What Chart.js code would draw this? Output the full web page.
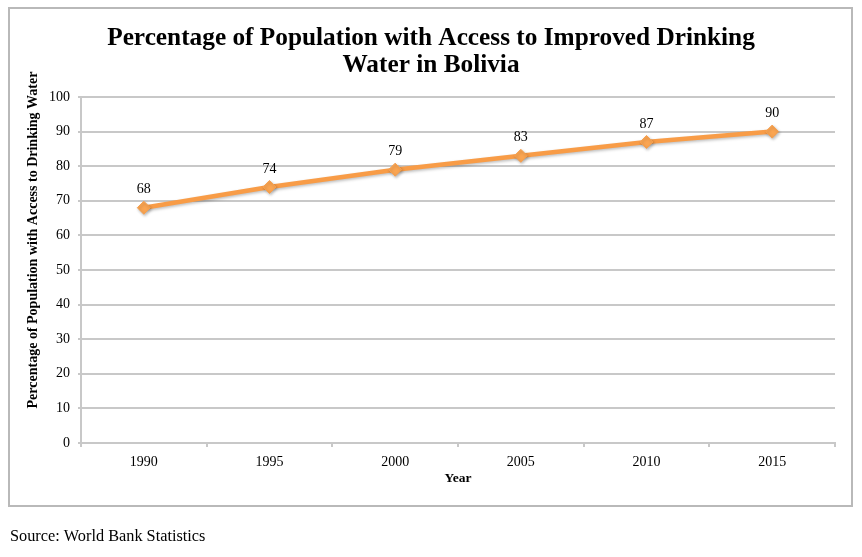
<!DOCTYPE html>
<html>
<head>
<meta charset="utf-8">
<script src="https://cdn.jsdelivr.net/npm/chart.js@4.4.0/dist/chart.umd.min.js"></script>
<style>
  html, body { margin: 0; padding: 0; background: #fff; }
  #wrap { width: 862px; height: 557px; position: relative; }
</style>
</head>
<body>
<div id="wrap"><canvas id="c" width="862" height="557"></canvas></div>
<script>
const years = ['1990', '1995', '2000', '2005', '2010', '2015'];
const accessPct = [68, 74, 79, 83, 87, 90];
const titleLines = ['Percentage of Population with Access to Improved Drinking', 'Water in Bolivia'];
const yAxisTitle = 'Percentage of Population with Access to Drinking Water';
const xAxisTitle = 'Year';
const sourceText = 'Source: World Bank Statistics';

const SERIF = '"Liberation Serif", "Times New Roman", serif';
const ORANGE = '#F89C47';
const GRID = '#c8c8c8';

const decorPlugin = {
  id: 'decor',
  beforeDraw(chart) {
    const ctx = chart.ctx;
    ctx.save();
    ctx.fillStyle = '#fff';
    ctx.fillRect(0, 0, chart.width, chart.height);
    ctx.strokeStyle = '#b9b9b9';
    ctx.lineWidth = 2;
    ctx.strokeRect(9, 8, 843, 498);
    ctx.restore();
  },
  afterDraw(chart) {
    const ctx = chart.ctx;
    ctx.save();
    ctx.fillStyle = '#000';
    ctx.textAlign = 'center';
    ctx.textBaseline = 'middle';
    ctx.font = 'bold 25.3px ' + SERIF;
    ctx.fillText(titleLines[0], 431, 38);
    ctx.fillText(titleLines[1], 431, 65);
    ctx.textAlign = 'left';
    ctx.font = '16.3px ' + SERIF;
    ctx.fillText(sourceText, 10, 537);
    // y axis title
    ctx.save();
    ctx.translate(33, 240);
    ctx.rotate(-Math.PI / 2);
    ctx.textAlign = 'center';
    ctx.font = 'bold 14px ' + SERIF;
    ctx.fillText(yAxisTitle, 0, 0);
    ctx.restore();
    // data labels
    const meta = chart.getDatasetMeta(0);
    ctx.textAlign = 'center';
    ctx.font = '14px ' + SERIF;
    meta.data.forEach((pt, i) => {
      ctx.fillText(String(chart.data.datasets[0].data[i]), pt.x, pt.y - 18);
    });
    ctx.restore();
  },
  beforeDatasetDraw(chart) {
    const ctx = chart.ctx;
    ctx.save();
    ctx.shadowColor = 'rgba(0,0,0,0.25)';
    ctx.shadowBlur = 3;
    ctx.shadowOffsetX = 1;
    ctx.shadowOffsetY = 1.5;
  },
  afterDatasetDraw(chart) {
    chart.ctx.restore();
  }
};

new Chart(document.getElementById('c'), {
  type: 'line',
  data: {
    labels: years,
    datasets: [{
      data: accessPct,
      borderColor: ORANGE,
      backgroundColor: ORANGE,
      borderWidth: 4.5,
      pointStyle: 'rectRot',
      pointRadius: 6.5,
      pointHoverRadius: 6.5,
      pointBackgroundColor: '#FAA552',
      pointBorderColor: '#F7A04E',
      pointBorderWidth: 1,
      tension: 0,
      fill: false
    }]
  },
  options: {
    responsive: false,
    animation: false,
    devicePixelRatio: 1,
    layout: { padding: { top: 97, right: 27, bottom: 0, left: 0 } },
    plugins: { legend: { display: false }, title: { display: false }, tooltip: { enabled: false } },
    scales: {
      x: {
        offset: true,
        afterFit(s) { s.height = 114; },
        grid: { offset: true, drawOnChartArea: false, drawTicks: true, tickLength: 4, color: GRID, lineWidth: 2 },
        border: { display: true, color: GRID, width: 2 },
        ticks: { color: '#000', font: { family: SERIF, size: 14 }, padding: 7 },
        title: { display: true, text: xAxisTitle, color: '#000', font: { family: SERIF, size: 13.5, weight: 'bold' }, padding: { top: 0, bottom: 70 } }
      },
      y: {
        min: 0, max: 100,
        afterFit(s) { s.width = 81; },
        grid: { color: GRID, lineWidth: 2, tickLength: 3, drawTicks: true },
        border: { display: true, color: GRID, width: 2 },
        ticks: { stepSize: 10, color: '#000', font: { family: SERIF, size: 14 }, padding: 8 },
        title: { display: false }
      }
    }
  },
  plugins: [decorPlugin]
});
</script>
</body>
</html>
